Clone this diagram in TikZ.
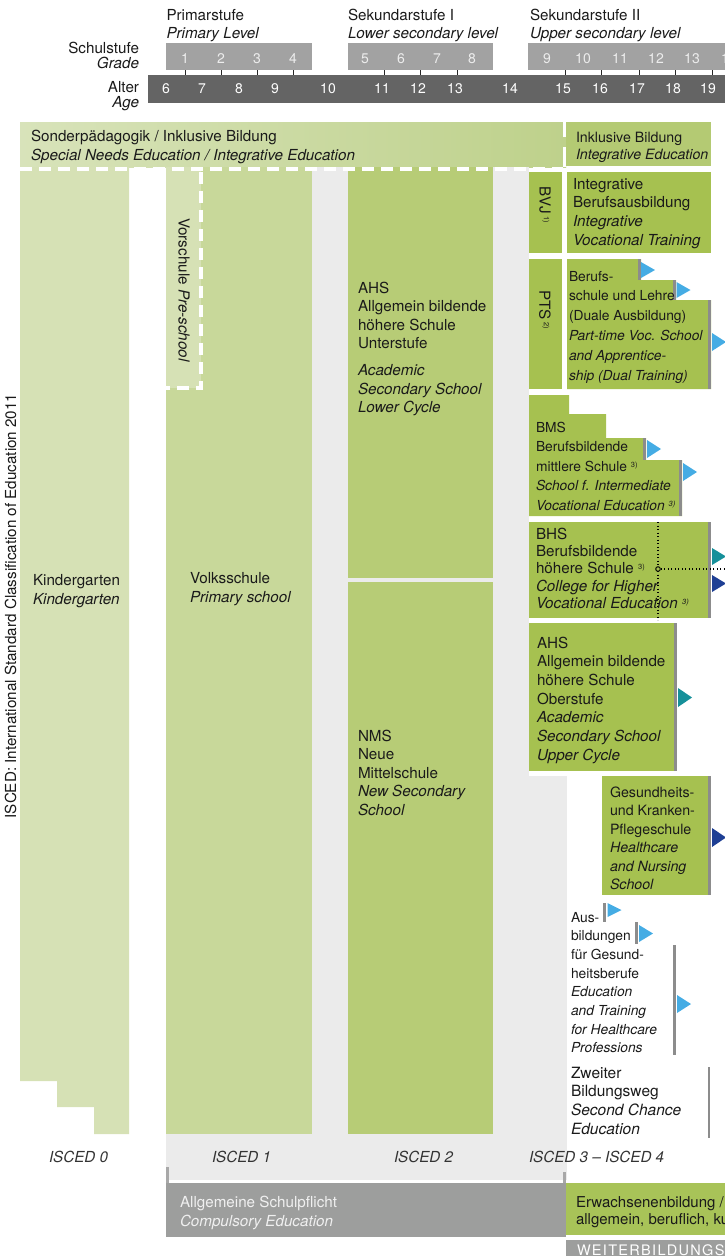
\documentclass[tikz,border=0pt]{standalone}
\usepackage{fontspec}
\setmainfont{TeX Gyre Heros}
\definecolor{txtc}{HTML}{1A1A1A}
\definecolor{gradec}{HTML}{A2A2A2}
\definecolor{gradetxt}{HTML}{EDEDED}
\definecolor{agec}{HTML}{646464}
\definecolor{snL}{HTML}{D8E3BA}
\definecolor{snR}{HTML}{BED18B}
\definecolor{ibc}{HTML}{B4CA73}
\definecolor{kgc}{HTML}{D6E1B5}
\definecolor{vsc}{HTML}{C8D89A}
\definecolor{ahsc}{HTML}{B7CC76}
\definecolor{rboxc}{HTML}{A6C150}
\definecolor{bgc}{HTML}{EBEBEB}
\definecolor{edgec}{HTML}{8C8C8C}
\definecolor{compc}{HTML}{9D9E9D}
\definecolor{brkc}{HTML}{A8A8A8}
\definecolor{erwc}{HTML}{A8C358}
\definecolor{triblue}{HTML}{45ACE4}
\definecolor{triteal}{HTML}{16909A}
\definecolor{tridblue}{HTML}{1E3F94}
\definecolor{iscedc}{HTML}{333333}
\newcommand\fs[2]{\fontsize{#1}{#2}\selectfont}
\newcommand\ml[2]{\vtop{\baselineskip=#1pt\lineskiplimit=-100pt\lineskip=0pt\def\\{\cr}\halign{##\hfil\cr#2\crcr}}}
\newcommand\sups[1]{\raisebox{0.55ex}{\fontsize{7.5}{8}\selectfont #1}}
\newcommand\tri[4]{\fill[#1] (#2,#3) -- ({#2+14},{(#3+#4)/2}) -- (#2,#4) -- cycle;}
\begin{document}
\begin{tikzpicture}[x=1pt,y=-1pt,
  lbl/.style={inner sep=0pt,outer sep=0pt,anchor=base west,text=txtc},
  tbig/.style={lbl,font=\fs{15.2}{18.7}},
  tmid/.style={lbl,font=\fs{14.2}{18}},
  tsmall/.style={lbl,font=\fs{13.8}{19.5}},
  num/.style={inner sep=0pt,outer sep=0pt,anchor=base,font=\fs{14}{14}},
  grayedge/.style={draw=edgec,line width=2.6pt},
  wdash/.style={draw=white,line width=4pt,dash pattern=on 12pt off 7pt},
  gtick/.style={draw=black!85,line width=1pt},
  brk/.style={draw=brkc,line width=3pt},
]
\useasboundingbox (0,0) rectangle (725,1256);
\clip (0,0) rectangle (725,1256);

% ---------------- header
\node[tbig] (prim) at (166.5,20) {Primarstufe};
\node[tbig] (primE) at (166.5,38) {\itshape Primary Level};
\node[tbig] (sekA) at (348,20) {Sekundarstufe I};
\node[tbig] (sekAE) at (348,38) {\itshape Lower secondary level};
\node[tbig] (sekB) at (530,20) {Sekundarstufe II};
\node[tbig] (sekBE) at (530,38) {\itshape Upper secondary level};
\node[tbig,anchor=base east] (schul) at (139,53) {Schulstufe};
\node[tbig,anchor=base east] (grade) at (139,68) {\itshape Grade};
\node[tbig,anchor=base east] (alter) at (139,92) {Alter};
\node[tbig,anchor=base east] (age) at (139,107.5) {\itshape Age};

\fill[gradec] (166,43) rectangle (312,70);
\fill[gradec] (348,43) rectangle (493,70);
\fill[gradec] (528,43) rectangle (725,70);
\foreach \x in {185,221,257,293,384,420,457,565,601,639,675,712}
  \draw[gtick] (\x,70) -- (\x,75);
\fill[agec] (148,75) rectangle (725,103);
\foreach \x/\n in {185/1,221/2,257/3,293/4,365/5,401/6,437/7,472/8,547/9,583/10,620/11,656/12,692/13,729/14}
  \node[num,text=gradetxt] (g\n) at (\x,63) {\n};
\foreach \x/\n in {166/6,202/7,239/8,275/9,328/10,382/11,418/12,455/13,510/14,563/15,600/16,637/17,673/18,708/19}
  \node[num,text=white] (a\n) at (\x,93) {\n};

% ---------------- special needs bar
\shade[left color=snL,right color=snR] (20,122) rectangle (566,167);
\fill[ibc] (566,122) rectangle (711,166);
\draw[white,line width=3pt] (564.5,122) -- (564.5,137) (564.5,147) -- (564.5,167);
\node[tbig] (sn) at (31,141) {\ml{19}{Sonderpädagogik / Inklusive Bildung\\\itshape Special Needs Education / Integrative Education}};
\node[tmid] (ib) at (576,142) {\ml{17.7}{Inklusive Bildung\\\itshape Integrative Education}};

% ---------------- grey background (compulsory school years)
\fill[bgc] (166,167) rectangle (529,1180);
\fill[bgc] (529,776) rectangle (567,1180);

% ---------------- columns
\fill[kgc] (20,167) -- (129,167) -- (129,1134) -- (94,1134) -- (94,1107) -- (57,1107) -- (57,1081) -- (20,1081) -- cycle;
\fill[vsc] (166,167) rectangle (312,1134);
\fill[kgc] (166,167) rectangle (201,388);
\fill[ahsc] (348,167) rectangle (493,578);
\fill[ahsc] (348,582) rectangle (493,1134);

\draw[wdash] (20,169) -- (563,169);
\draw[wdash] (201.3,172) -- (201.3,388) -- (166,388);

% ---------------- right column boxes
\fill[rboxc] (529,172) rectangle (562,253);
\fill[rboxc] (567,172) rectangle (711,253);
\fill[rboxc] (529,259) rectangle (562,389);
\fill[rboxc] (567,259) -- (641,259) -- (641,280) -- (676,280) -- (676,300) -- (711,300) -- (711,389) -- (567,389) -- cycle;
\fill[rboxc] (529,395) -- (569,395) -- (569,414) -- (606,414) -- (606,438) -- (646,438) -- (646,460) -- (682,460) -- (682,516) -- (529,516) -- cycle;
\fill[rboxc] (529,522) rectangle (711,618);
\fill[rboxc] (529,623) rectangle (677,771);
\fill[rboxc] (602,776) rectangle (711,895);

% grey right edges
\draw[grayedge] (639.7,259) -- (639.7,280);
\draw[grayedge] (674.7,280) -- (674.7,300);
\draw[grayedge] (709.7,300) -- (709.7,389);
\draw[grayedge] (644.7,438) -- (644.7,460);
\draw[grayedge] (680.7,460) -- (680.7,516);
\draw[grayedge] (709.7,522) -- (709.7,618);
\draw[grayedge] (675.7,623) -- (675.7,771);
\draw[grayedge] (709.7,776) -- (709.7,895);
\draw[grayedge] (604.5,903) -- (604.5,922);
\draw[grayedge] (636.5,922) -- (636.5,944);
\draw[grayedge] (674.5,945) -- (674.5,1055);
\draw[grayedge] (709,1067) -- (709,1138);

% triangles
\tri{triblue}{641}{262}{278}
\tri{triblue}{676.5}{282}{298}
\tri{triblue}{712}{333}{351}
\tri{triblue}{647}{440}{458}
\tri{triblue}{683}{463}{481}
\tri{triteal}{712}{548}{565}
\tri{tridblue}{712}{575}{592}
\tri{triteal}{678}{688}{707}
\tri{tridblue}{712}{828}{847}
\tri{triblue}{607.5}{903}{917}
\tri{triblue}{639}{925}{942}
\tri{triblue}{677}{995}{1013}

% dotted lines in BHS
\draw[black,line width=1.1pt,dash pattern=on 1.2pt off 2.3pt] (658,522) -- (658,620);
\node[circle,draw=black,line width=0.9pt,fill=rboxc,inner sep=0pt,minimum size=4.6pt] (junc) at (658,569) {};
\draw[black,line width=1.1pt,dash pattern=on 1.2pt off 2.3pt] (junc.east) -- (725,569);

% ---------------- texts in columns
\node[rotate=90,inner sep=0pt,text=txtc,font=\fs{15.2}{18}] (isced) at (10.5,606) {ISCED: International Standard Classification of Education 2011};
\node[tbig] (kg) at (33,585) {\ml{19}{Kindergarten\\\itshape Kindergarten}};
\node[rotate=-90,inner sep=0pt,text=txtc,font=\fs{15.2}{18}] (vor) at (184,290) {Vorschule \textit{Pre-school}};
\node[tbig] (vs) at (190,583) {\ml{19}{Volksschule\\\itshape Primary school}};
\node[tbig] (ahsL) at (358,293) {\ml{18.6}{AHS\\Allgemein bildende\\höhere Schule\\Unterstufe\\\noalign{\vskip 8pt}\itshape Academic\\\itshape Secondary School\\\itshape Lower Cycle}};
\node[tbig] (nms) at (358,741) {\ml{18.6}{NMS\\Neue\\Mittelschule\\\itshape New Secondary\\\itshape School}};

\node[rotate=-90,inner sep=0pt,text=txtc,font=\fs{15.2}{18}] (bvj) at (545,205) {BVJ\,\sups{1)}};
\node[rotate=-90,inner sep=0pt,text=txtc,font=\fs{15.2}{18}] (pts) at (545,309.5) {PTS\,\sups{2)}};
\node[tbig] (ibv) at (573,189) {\ml{18.7}{Integrative\\Berufsausbildung\\\itshape Integrative\\\itshape Vocational Training}};
\node[tsmall] (bs) at (569,281) {\ml{19.8}{Berufs-\\schule und Lehre\\(Duale Ausbildung)\\\itshape Part-time Voc. School\\\itshape and Apprentice-\\\itshape ship (Dual Training)}};
\node[tsmall] (bms) at (536,432) {\ml{19.5}{BMS\\Berufsbildende\\mittlere Schule \sups{3)}\\\itshape School f. Intermediate\\\itshape Vocational Education \sups{3)}}};
\node[tbig] (bhs) at (536,539) {\ml{17.4}{BHS\\Berufsbildende\\höhere Schule \sups{3)}\\\itshape College for Higher\\\itshape Vocational Education \sups{3)}}};
\node[tbig] (ahsU) at (537,648) {\ml{18.7}{AHS\\Allgemein bildende\\höhere Schule\\Oberstufe\\\itshape Academic\\\itshape Secondary School\\\itshape Upper Cycle}};
\node[tmid] (gk) at (610,797) {\ml{18.5}{Gesundheits-\\und Kranken-\\Pflegeschule\\\itshape Healthcare\\\itshape and Nursing\\\itshape School}};
\node[tsmall] (ag) at (571,922) {\ml{18.7}{Aus-\\bildungen\\für Gesund-\\heitsberufe\\\itshape Education\\\itshape and Training\\\itshape for Healthcare\\\itshape Professions}};
\node[lbl,font=\fs{15.5}{18.7}] (zb) at (571,1078) {\ml{18.7}{Zweiter\\Bildungsweg\\\itshape Second Chance\\\itshape Education}};

% ---------------- ISCED labels
\node[tbig,text=iscedc] (i0) at (49,1162) {\itshape ISCED 0};
\node[tbig,text=iscedc] (i1) at (212,1162) {\itshape ISCED 1};
\node[tbig,text=iscedc] (i2) at (394,1162) {\itshape ISCED 2};
\node[tbig,text=iscedc] (i34) at (529,1162) {\itshape ISCED 3 -- ISCED 4};

% ---------------- bottom bars
\draw[brk] (167.5,1167) -- (167.5,1183);
\draw[brk] (564.5,1172) -- (564.5,1183);
\fill[compc] (166,1183) rectangle (566,1237);
\fill[erwc] (566,1183) rectangle (725,1235);
\fill[compc] (566,1240) rectangle (725,1256);
\node[tbig,text=white!94!black] (comp) at (180,1207) {\ml{19}{Allgemeine Schulpflicht\\\itshape Compulsory Education}};
\node[lbl,font=\fs{15}{17}] (erw) at (576,1207) {\ml{17}{Erwachsenenbildung / Adult Education\\allgemein, beruflich, kulturell}};
\node[lbl,text=white,font=\fs{14.5}{14.5}\addfontfeatures{LetterSpace=9}] (wb) at (577,1255) {WEITERBILDUNGSSYSTEM};
\end{tikzpicture}
\end{document}
